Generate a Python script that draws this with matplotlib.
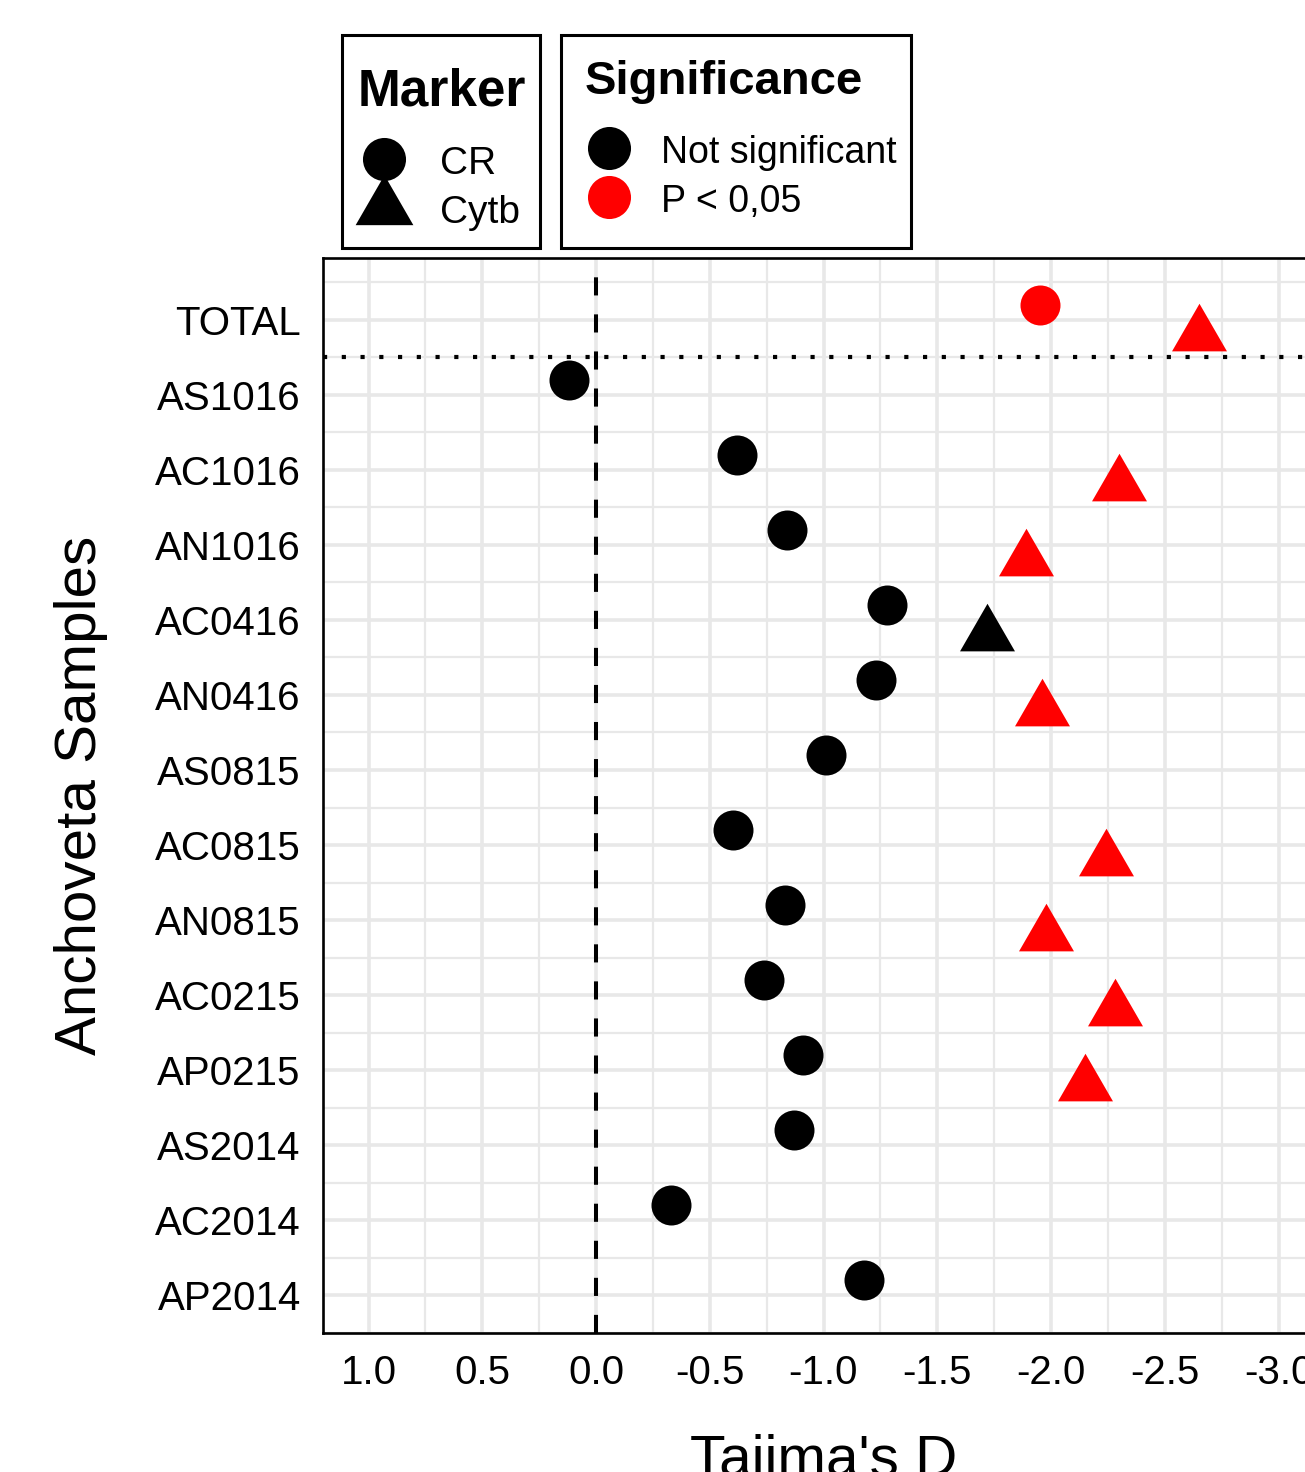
import numpy as np
import matplotlib
matplotlib.use('Agg')
import matplotlib.pyplot as plt
from matplotlib.lines import Line2D
from matplotlib.patches import Rectangle
from matplotlib.ticker import MultipleLocator

plt.rcParams['font.family'] = ['Liberation Sans', 'DejaVu Sans']

samples = ['TOTAL', 'AS1016', 'AC1016', 'AN1016', 'AC0416', 'AN0416', 'AS0815',
           'AC0815', 'AN0815', 'AC0215', 'AP0215', 'AS2014', 'AC2014', 'AP2014']
# Tajima's D, control region (CR)
cr_d = [-1.95, 0.12, -0.62, -0.84, -1.28, -1.23, -1.01,
        -0.60, -0.83, -0.74, -0.91, -0.87, -0.33, -1.18]
cr_sig = [True, False, False, False, False, False, False,
          False, False, False, False, False, False, False]
# Tajima's D, Cytb (nan = not tested)
cytb_d = [-2.65, np.nan, -2.30, -1.89, -1.72, -1.96, np.nan,
          -2.24, -1.98, -2.28, -2.15, np.nan, np.nan, np.nan]
cytb_sig = [True, False, True, True, False, True, False,
            True, True, True, True, False, False, False]

W, H = 1305, 1472
fig = plt.figure(figsize=(W / 100, H / 100), dpi=100)


def fx(px):
    return px / W


def fy(py):
    return 1 - py / H


# axes placed in pixel terms; right edge runs past the figure (cropped like the original)
ax = fig.add_axes([fx(323), fy(1333), fx(1324) - fx(323), fy(258) - fy(1333)])

tri = [(0, 1), (-0.866, -0.5), (0.866, -0.5), (0, 1)]  # centroid centred triangle
n = len(samples)
ypos = np.arange(n, 0, -1)
dodge = 0.2

for i in range(n):
    c = 'red' if cr_sig[i] else 'black'
    ax.plot(cr_d[i], ypos[i] + dodge, 'o', ms=28.8, color=c, mew=0, zorder=4)
    if not np.isnan(cytb_d[i]):
        c = 'red' if cytb_sig[i] else 'black'
        ax.plot(cytb_d[i], ypos[i] - dodge, marker=tri, ls='none', ms=45.7,
                color=c, mew=0, zorder=4)

ax.axvline(0, color='black', lw=2.9, ls=(0, (4.5, 4.7)), zorder=3)
ax.axhline(n - 0.5, color='black', lw=3.0, ls=(0, (1, 3.5)), zorder=3)

ax.set_xlim(1.2, -3.2)
ax.set_ylim(0.576, 14.82)
ax.set_xticks([1.0, 0.5, 0.0, -0.5, -1.0, -1.5, -2.0, -2.5, -3.0])
ax.set_xticklabels(['1.0', '0.5', '0.0', '-0.5', '-1.0', '-1.5', '-2.0', '-2.5', '-3.0'])
ax.xaxis.set_minor_locator(MultipleLocator(0.25))
ax.set_yticks(ypos)
ax.set_yticklabels(samples)
ax.set_yticks(np.arange(0.5, n + 1, 1.0), minor=True)
ax.tick_params(which='both', length=0)
ax.tick_params(axis='x', labelsize=29, pad=15, colors='black')
ax.tick_params(axis='y', labelsize=29, pad=16, colors='black')
ax.set_axisbelow(True)
ax.grid(which='major', color='#e8e8e8', lw=2.6)
ax.grid(which='minor', color='#e8e8e8', lw=1.6)
for s in ['left', 'top', 'bottom']:
    ax.spines[s].set_linewidth(1.9)
    ax.spines[s].set_color('black')
ax.spines['right'].set_visible(False)

ax.set_xlabel("Tajima's D", fontsize=42, labelpad=30)
ax.set_ylabel('Anchoveta Samples', fontsize=42, labelpad=34)

# legend boxes
fig.add_artist(Rectangle((fx(342), fy(248)), fx(540) - fx(342), fy(35) - fy(248),
                         transform=fig.transFigure, fill=False, lw=2.2, ec='black'))
fig.add_artist(Rectangle((fx(561), fy(248)), fx(911) - fx(561), fy(35) - fy(248),
                         transform=fig.transFigure, fill=False, lw=2.2, ec='black'))
fig.text(fx(358), fy(106), 'Marker', fontsize=37, fontweight='bold', va='baseline')
fig.text(fx(585), fy(94), 'Significance', fontsize=34, fontweight='bold', va='baseline')

marker_handles = [Line2D([], [], ls='none', marker='o', ms=31, color='black', mew=0),
                  Line2D([], [], ls='none', marker=tri, ms=48, color='black', mew=0)]
leg1 = fig.legend(marker_handles, ['CR', 'Cytb'], loc='upper left',
                  bbox_to_anchor=(fx(360.7), fy(143.5)), frameon=False, borderpad=0,
                  borderaxespad=0, fontsize=28, handlelength=1.2, handleheight=1.0,
                  handletextpad=0.84, labelspacing=0.26)

sig_handles = [Line2D([], [], ls='none', marker='o', ms=31, color='black', mew=0),
               Line2D([], [], ls='none', marker='o', ms=31, color='red', mew=0)]
leg2 = fig.legend(sig_handles, ['Not significant', 'P < 0,05'], loc='upper left',
                  bbox_to_anchor=(fx(586.5), fy(133)), frameon=False, borderpad=0,
                  borderaxespad=0, fontsize=27, handlelength=1.2, handleheight=1.0,
                  handletextpad=0.78, labelspacing=0.32)

fig.savefig('out.png', dpi=100)
